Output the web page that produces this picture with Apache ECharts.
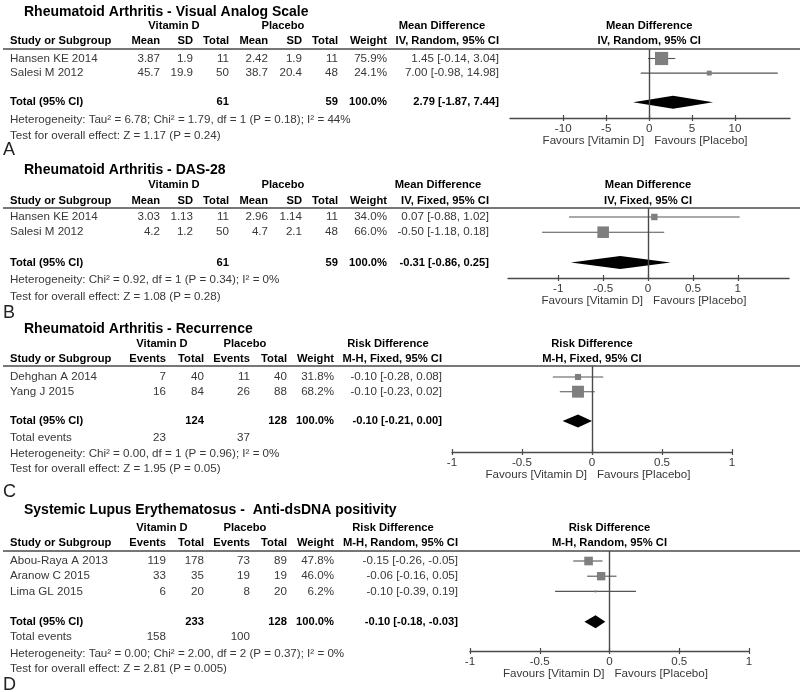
<!DOCTYPE html>
<html><head><meta charset="utf-8">
<script src="https://cdn.jsdelivr.net/npm/echarts@6/dist/echarts.min.js"></script>
<style>html,body{margin:0;padding:0;background:#fff}#c{width:800px;height:692px}</style>
</head><body><div id="c"></div>
<script>
// ---------- DATA ----------
// Panel A: Rheumatoid Arthritis - Visual Analog Scale (continuous)
const vasStudies = ['Hansen KE 2014', 'Salesi M 2012'];
const vasVitMean = ['3.87', '45.7'];
const vasVitSD = ['1.9', '19.9'];
const vasVitN = [11, 50];
const vasPlaMean = ['2.42', '38.7'];
const vasPlaSD = ['1.9', '20.4'];
const vasPlaN = [11, 48];
const vasWeight = [75.9, 24.1];
const vasEst = [1.45, 7.00];
const vasLo = [-0.14, -0.98];
const vasHi = [3.04, 14.98];
const vasTotalN = [61, 59];
const vasTotal = [2.79, -1.87, 7.44];
const vasTicks = [-10, -5, 0, 5, 10];
const vasFoot = ['Heterogeneity: Tau\u00b2 = 6.78; Chi\u00b2 = 1.79, df = 1 (P = 0.18); I\u00b2 = 44%', 'Test for overall effect: Z = 1.17 (P = 0.24)'];

// Panel B: Rheumatoid Arthritis - DAS-28 (continuous)
const dasStudies = ['Hansen KE 2014', 'Salesi M 2012'];
const dasVitMean = ['3.03', '4.2'];
const dasVitSD = ['1.13', '1.2'];
const dasVitN = [11, 50];
const dasPlaMean = ['2.96', '4.7'];
const dasPlaSD = ['1.14', '2.1'];
const dasPlaN = [11, 48];
const dasWeight = [34.0, 66.0];
const dasEst = [0.07, -0.50];
const dasLo = [-0.88, -1.18];
const dasHi = [1.02, 0.18];
const dasTotalN = [61, 59];
const dasTotal = [-0.31, -0.86, 0.25];
const dasTicks = [-1, -0.5, 0, 0.5, 1];
const dasFoot = ['Heterogeneity: Chi\u00b2 = 0.92, df = 1 (P = 0.34); I\u00b2 = 0%', 'Test for overall effect: Z = 1.08 (P = 0.28)'];

// Panel C: Rheumatoid Arthritis - Recurrence (dichotomous)
const recStudies = ['Dehghan A 2014', 'Yang J 2015'];
const recVitEv = [7, 16];
const recVitN = [40, 84];
const recPlaEv = [11, 26];
const recPlaN = [40, 88];
const recWeight = [31.8, 68.2];
const recEst = [-0.10, -0.10];
const recLo = [-0.28, -0.23];
const recHi = [0.08, 0.02];
const recTotalN = [124, 128];
const recTotalEv = [23, 37];
const recTotal = [-0.10, -0.21, 0.00];
const recTicks = [-1, -0.5, 0, 0.5, 1];
const recFoot = ['Heterogeneity: Chi\u00b2 = 0.00, df = 1 (P = 0.96); I\u00b2 = 0%', 'Test for overall effect: Z = 1.95 (P = 0.05)'];

// Panel D: Systemic Lupus Erythematosus - Anti-dsDNA positivity (dichotomous)
const sleStudies = ['Abou-Raya A 2013', 'Aranow C 2015', 'Lima GL 2015'];
const sleVitEv = [119, 33, 6];
const sleVitN = [178, 35, 20];
const slePlaEv = [73, 19, 8];
const slePlaN = [89, 19, 20];
const sleWeight = [47.8, 46.0, 6.2];
const sleEst = [-0.15, -0.06, -0.10];
const sleLo = [-0.26, -0.16, -0.39];
const sleHi = [-0.05, 0.05, 0.19];
const sleTotalN = [233, 128];
const sleTotalEv = [158, 100];
const sleTotal = [-0.10, -0.18, -0.03];
const sleTicks = [-1, -0.5, 0, 0.5, 1];
const sleFoot = ['Heterogeneity: Tau\u00b2 = 0.00; Chi\u00b2 = 2.00, df = 2 (P = 0.37); I\u00b2 = 0%', 'Test for overall effect: Z = 2.81 (P = 0.005)'];

// ---------- LAYOUT ----------
const FONT = '"Liberation Sans", Arial, Helvetica, sans-serif';
const TXT = '#383838';
const LINE = '#4a4a4a';
const REG = 11.6, BOLD = 11.2;
const f2 = v => v.toFixed(2);
const ciText = (e, l, h) => f2(e) + ' [' + f2(l) + ', ' + f2(h) + ']';
const wText = w => w.toFixed(1) + '%';

const panels = [
  { kind: 'cont', letter: 'A', title: 'Rheumatoid Arthritis - Visual Analog Scale', method: 'IV, Random, 95% CI', effect: 'Mean Difference',
    studies: vasStudies, c1: vasVitMean, c2: vasVitSD, n1: vasVitN, c3: vasPlaMean, c4: vasPlaSD, n2: vasPlaN,
    w: vasWeight, est: vasEst, lo: vasLo, hi: vasHi, totN: vasTotalN, tot: vasTotal, ticks: vasTicks, foot: vasFoot,
    L: { title: 12, h1: 25.5, h2: 41, line: 49, row0: 58.5, step: 14.6, axisY: 118, axL: 510, axR: 790, min: -16.2, max: 16.4,
         foot: [119.5, 136], letterY: 150, ciR: 499, effX: 442 } },
  { kind: 'cont', letter: 'B', title: 'Rheumatoid Arthritis - DAS-28', method: 'IV, Fixed, 95% CI', effect: 'Mean Difference',
    studies: dasStudies, c1: dasVitMean, c2: dasVitSD, n1: dasVitN, c3: dasPlaMean, c4: dasPlaSD, n2: dasPlaN,
    w: dasWeight, est: dasEst, lo: dasLo, hi: dasHi, totN: dasTotalN, tot: dasTotal, ticks: dasTicks, foot: dasFoot,
    L: { title: 170.5, h1: 185, h2: 201, line: 208, row0: 217, step: 15.2, axisY: 278, axL: 508, axR: 789, min: -1.56, max: 1.57,
         foot: [279.5, 297], letterY: 313, ciR: 489, effX: 438 } },
  { kind: 'dich', letter: 'C', title: 'Rheumatoid Arthritis - Recurrence', method: 'M-H, Fixed, 95% CI', effect: 'Risk Difference',
    studies: recStudies, c1: recVitEv, n1: recVitN, c3: recPlaEv, n2: recPlaN,
    w: recWeight, est: recEst, lo: recLo, hi: recHi, totN: recTotalN, totEv: recTotalEv, tot: recTotal, ticks: recTicks, foot: recFoot,
    L: { title: 329.5, h1: 344, h2: 359, line: 366, row0: 377, step: 14.7, axisY: 452, axL: 452, axR: 732, min: -1, max: 1,
         foot: [454, 469], evY: 438, letterY: 492, ciR: 442, effX: 388 } },
  { kind: 'dich', letter: 'D', title: 'Systemic Lupus Erythematosus -  Anti-dsDNA positivity', method: 'M-H, Random, 95% CI', effect: 'Risk Difference',
    studies: sleStudies, c1: sleVitEv, n1: sleVitN, c3: slePlaEv, n2: slePlaN,
    w: sleWeight, est: sleEst, lo: sleLo, hi: sleHi, totN: sleTotalN, totEv: sleTotalEv, tot: sleTotal, ticks: sleTicks, foot: sleFoot,
    L: { title: 510, h1: 528, h2: 543, line: 551, row0: 561, step: 15.2, axisY: 651, axL: 470, axR: 749, min: -1, max: 1,
         foot: [654, 669], evY: 637, letterY: 685, ciR: 458, effX: 393 } }
];

function txt(x, y, s, o) {
  o = o || {};
  const align = o.align || 'left';
  const size = o.size || (o.bold ? BOLD : REG);
  return { type: 'text', x: x, y: y, silent: true, z: 10,
    style: { text: String(s), font: (o.bold ? 'bold ' : '') + size + 'px ' + FONT,
      fill: o.color || (o.bold ? '#000' : TXT), textAlign: align, align: align,
      textVerticalAlign: 'middle', verticalAlign: 'middle' } };
}

const grids = [], xAxes = [], yAxes = [], series = [];
panels.forEach((p, i) => {
  const L = p.L;
  grids.push({ left: L.axL, width: L.axR - L.axL, top: L.line, height: L.axisY - L.line });
  const base = { gridIndex: i, type: 'value', min: L.min, max: L.max, position: 'bottom', splitLine: { show: false } };
  xAxes.push(Object.assign({}, base, {
    axisLine: { show: true, onZero: false, lineStyle: { color: LINE, width: 1.4 } },
    axisTick: { show: true, customValues: p.ticks, length: 3, lineStyle: { color: LINE, width: 1.2 } },
    axisLabel: { show: true, customValues: p.ticks, margin: 5, color: TXT, fontSize: REG, fontFamily: FONT }
  }));
  xAxes.push(Object.assign({}, base, {
    axisLine: { show: false, onZero: false },
    axisTick: { show: true, inside: true, customValues: p.ticks, length: 3, lineStyle: { color: LINE, width: 1.2 } },
    axisLabel: { show: false }
  }));
  yAxes.push({ gridIndex: i, type: 'value', inverse: true, show: false,
    min: (L.line - L.row0) / L.step, max: (L.axisY - L.row0) / L.step });

  const studyData = p.studies.map((s, k) => [p.est[k], p.lo[k], p.hi[k], k, p.w[k]]);
  series.push({
    type: 'custom', xAxisIndex: 2 * i, yAxisIndex: i, clip: false, silent: true,
    data: studyData,
    encode: { x: [0, 1, 2], y: 3 },
    renderItem: function (params, api) {
      const r = api.value(3);
      const c = api.coord([api.value(0), r]);
      const a = api.coord([api.value(1), r]);
      const b = api.coord([api.value(2), r]);
      const sz = 1 + 0.16 * api.value(4);
      return { type: 'group', children: [
        { type: 'line', shape: { x1: a[0], y1: a[1], x2: b[0], y2: b[1] }, style: { stroke: '#555', lineWidth: 1.1 } },
        { type: 'rect', shape: { x: c[0] - sz / 2, y: c[1] - sz / 2, width: sz, height: sz }, style: { fill: '#7f7f7f' } }
      ] };
    },
    markLine: { silent: true, symbol: 'none', label: { show: false },
      lineStyle: { color: LINE, width: 1.4, type: 'solid' }, data: [{ xAxis: 0 }] }
  });
  series.push({
    type: 'custom', xAxisIndex: 2 * i, yAxisIndex: i, clip: false, silent: true,
    data: [[p.tot[0], p.tot[1], p.tot[2], p.studies.length + 1]],
    encode: { x: [0, 1, 2], y: 3 },
    renderItem: function (params, api) {
      const r = api.value(3);
      const c = api.coord([api.value(0), r]);
      const a = api.coord([api.value(1), r]);
      const b = api.coord([api.value(2), r]);
      const h = 6.5;
      return { type: 'polygon', shape: { points: [[a[0], a[1]], [c[0], c[1] - h], [b[0], b[1]], [c[0], c[1] + h]] },
        style: { fill: '#000' } };
    }
  });
});

const chart = echarts.init(document.getElementById('c'), null, { renderer: 'canvas' });
chart.setOption({ animation: false, backgroundColor: '#fff', grid: grids, xAxis: xAxes, yAxis: yAxes, series: series });

// ---------- TEXT (table) ----------
const g = [];
panels.forEach((p, i) => {
  const L = p.L;
  const rowY = k => L.row0 + k * L.step;
  const zx = chart.convertToPixel({ xAxisIndex: 2 * i }, 0);
  g.push(txt(24, L.title, p.title, { bold: true, size: 14 }));
  g.push({ type: 'line', silent: true, shape: { x1: 3, y1: L.line, x2: 800, y2: L.line }, style: { stroke: LINE, lineWidth: 1.4 } });
  // plot headers
  g.push(txt(zx, L.h1, p.effect, { bold: true, align: 'center' }));
  g.push(txt(zx, L.h2, p.method, { bold: true, align: 'center' }));
  g.push(txt(zx - 5, L.axisY + 23, 'Favours [Vitamin D]', { align: 'right' }));
  g.push(txt(zx + 5, L.axisY + 23, 'Favours [Placebo]', { align: 'left' }));
  g.push(txt(3, L.letterY, p.letter, { size: 18, color: '#222' }));
  g.push(txt(10, L.foot[0], p.foot[0]));
  g.push(txt(10, L.foot[1], p.foot[1]));
  const sumW = p.w.reduce((s, v) => s + v, 0);
  let cols, hdr, rows, totalRow;
  if (p.kind === 'cont') {
    cols = [[10, 'left'], [160, 'right'], [193, 'right'], [229, 'right'], [268, 'right'], [302, 'right'], [338, 'right'], [387, 'right'], [L.ciR, 'right']];
    g.push(txt(174, L.h1, 'Vitamin D', { bold: true, align: 'center' }));
    g.push(txt(283, L.h1, 'Placebo', { bold: true, align: 'center' }));
    hdr = ['Study or Subgroup', 'Mean', 'SD', 'Total', 'Mean', 'SD', 'Total', 'Weight', p.method];
    rows = p.studies.map((s, k) => [s, p.c1[k], p.c2[k], p.n1[k], p.c3[k], p.c4[k], p.n2[k], wText(p.w[k]), ciText(p.est[k], p.lo[k], p.hi[k])]);
    totalRow = ['Total (95% CI)', '', '', p.totN[0], '', '', p.totN[1], wText(sumW), ciText(p.tot[0], p.tot[1], p.tot[2])];
  } else {
    cols = [[10, 'left'], [166, 'right'], [204, 'right'], [250, 'right'], [287, 'right'], [334, 'right'], [L.ciR, 'right']];
    g.push(txt(162, L.h1, 'Vitamin D', { bold: true, align: 'center' }));
    g.push(txt(245, L.h1, 'Placebo', { bold: true, align: 'center' }));
    hdr = ['Study or Subgroup', 'Events', 'Total', 'Events', 'Total', 'Weight', p.method];
    rows = p.studies.map((s, k) => [s, p.c1[k], p.n1[k], p.c3[k], p.n2[k], wText(p.w[k]), ciText(p.est[k], p.lo[k], p.hi[k])]);
    totalRow = ['Total (95% CI)', '', p.totN[0], '', p.totN[1], wText(sumW), ciText(p.tot[0], p.tot[1], p.tot[2])];
    g.push(txt(10, L.evY, 'Total events'));
    g.push(txt(cols[1][0], L.evY, p.totEv[0], { align: 'right' }));
    g.push(txt(cols[3][0], L.evY, p.totEv[1], { align: 'right' }));
  }
  g.push(txt(L.effX, L.h1, p.effect, { bold: true, align: 'center' }));
  hdr.forEach((h, c) => g.push(txt(cols[c][0], L.h2, h, { bold: true, align: cols[c][1] })));
  rows.forEach((r, k) => r.forEach((v, c) => { if (v !== '') g.push(txt(cols[c][0], rowY(k), v, { align: cols[c][1] })); }));
  const ty = rowY(p.studies.length + 1);
  totalRow.forEach((v, c) => { if (v !== '') g.push(txt(cols[c][0], ty, v, { bold: true, align: cols[c][1] })); });
});
chart.setOption({ graphic: { elements: g } });
</script>
</body></html>
